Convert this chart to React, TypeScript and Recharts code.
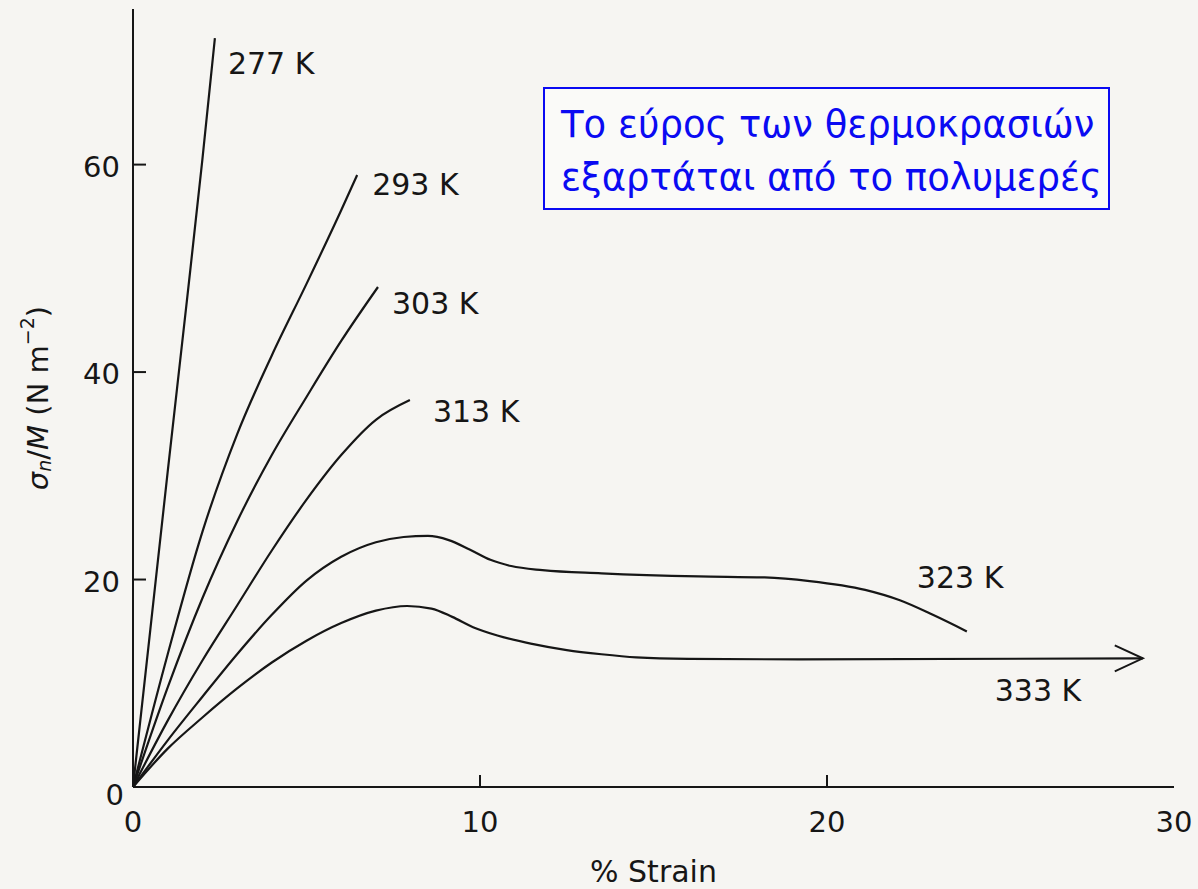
import React from 'react';
import { LineChart, Line, XAxis, YAxis } from 'recharts';

// Stress / strain curves at six temperatures (strain in %, stress in N m^-2 per M)
const strain277 = [0, 0.5, 1.0, 1.55, 2.0, 2.36];
const stress277 = [0, 15.2, 30.4, 46.8, 60.5, 72.2];

const strain293 = [0, 1, 2, 3, 4, 5, 6, 6.46];
const stress293 = [0, 12.8, 24.6, 34, 41.6, 48.5, 55.6, 59];

const strain303 = [0, 1, 2, 3, 4, 5, 6, 7.06];
const stress303 = [0, 9.6, 18.2, 25.6, 32, 37.6, 43, 48.2];

const strain313 = [0, 1, 2, 3, 4, 5, 6, 7, 7.98];
const stress313 = [0, 6.4, 12.2, 17.5, 22.8, 27.7, 32, 35.4, 37.3];

const strain323 = [0, 1, 2, 3, 4, 5, 6, 7, 7.8, 8.5, 9.1, 9.7, 10.3, 10.9, 11.8, 13.5, 16.3, 18.2, 19.5, 21.1, 22.1, 23.05, 24.03];
const stress323 = [0, 4.5, 8.7, 12.8, 16.6, 19.9, 22.2, 23.6, 24.1, 24.2, 23.8, 22.9, 21.9, 21.3, 20.9, 20.6, 20.3, 20.2, 19.85, 19.0, 18.0, 16.6, 15.0];

const strain333 = [0, 1, 2, 3, 4, 5, 6, 7, 7.9, 8.6, 9.2, 9.8, 10.5, 11.5, 12.5, 13.5, 14.5, 16, 19.2, 29.1];
const stress333 = [0, 3.7, 6.7, 9.5, 12.0, 14.1, 15.8, 17.0, 17.45, 17.2, 16.4, 15.4, 14.6, 13.8, 13.2, 12.8, 12.5, 12.35, 12.3, 12.4];

const temperatureLabels = ['277 K', '293 K', '303 K', '313 K', '323 K', '333 K'];

const xTicks = [0, 10, 20, 30];
const yTicks = [0, 20, 40, 60];
const yTicksRight = [20, 40, 60];

const noteLines = ['Το εύρος των θερμοκρασιών', 'εξαρτάται από το πολυμερές'];

const toPoints = (xs: number[], ys: number[]) => xs.map((x, i) => ({ x, y: ys[i] }));

const INK = '#161616';
const FONT = '"DejaVu Sans", "Liberation Sans", Arial, sans-serif';

const series = [
  { label: temperatureLabels[0], data: toPoints(strain277, stress277), dx: 13, dy: 25, arrow: false },
  { label: temperatureLabels[1], data: toPoints(strain293, stress293), dx: 15, dy: 10, arrow: false },
  { label: temperatureLabels[2], data: toPoints(strain303, stress303), dx: 14, dy: 16, arrow: false },
  { label: temperatureLabels[3], data: toPoints(strain313, stress313), dx: 23, dy: 11, arrow: false },
  { label: temperatureLabels[4], data: toPoints(strain323, stress323), dx: -50, dy: -54, arrow: false },
  { label: temperatureLabels[5], data: toPoints(strain333, stress333), dx: -148, dy: 32, arrow: true },
];

// End-of-curve marker: temperature label, plus an arrow head where requested
const makeEndDot = (label: string, count: number, dx: number, dy: number, arrow: boolean) => (props: any) => {
  const { cx, cy, index } = props;
  if (index !== count - 1) return <g key={`d-${label}-${index}`} />;
  return (
    <g key={`end-${label}`}>
      {arrow && (
        <path
          d={`M${cx - 28},${cy - 13} L${cx},${cy} L${cx - 28},${cy + 13}`}
          fill="none"
          stroke={INK}
          strokeWidth={2}
        />
      )}
      <text
        x={cx + dx}
        y={cy + dy}
        dominantBaseline="central"
        textAnchor="start"
        fontFamily={FONT}
        fontSize={30}
        fill={INK}
      >
        {label}
      </text>
    </g>
  );
};

const BottomTick = (props: any) => {
  const { x, y, payload } = props;
  const v = payload.value;
  return (
    <g>
      {v !== 0 && v !== 30 && <line x1={x} y1={y} x2={x} y2={y - 12} stroke={INK} strokeWidth={2} />}
      <text x={x} y={y + 45} textAnchor="middle" fontFamily={FONT} fontSize={29} fill={INK}>
        {v}
      </text>
    </g>
  );
};

const LeftTick = (props: any) => {
  const { x, y, payload } = props;
  const v = payload.value;
  return (
    <g>
      {v !== 0 && <line x1={x} y1={y} x2={x + 13} y2={y} stroke={INK} strokeWidth={2} />}
      <text
        x={x - (v === 0 ? 9 : 13)}
        y={y + (v === 0 ? 8 : 2)}
        textAnchor="end"
        dominantBaseline="central"
        fontFamily={FONT}
        fontSize={29}
        fill={INK}
      >
        {v}
      </text>
    </g>
  );
};

const RightTick = (props: any) => {
  const { x, y } = props;
  return <line x1={x} y1={y} x2={x - 13} y2={y} stroke={INK} strokeWidth={2} />;
};

const YTitle = () => {
  const cx = 38;
  const cy = 398;
  return (
    <text
      transform={`translate(${cx},${cy}) rotate(-90)`}
      textAnchor="middle"
      dominantBaseline="central"
      fontFamily={FONT}
      fontSize={29}
      fill={INK}
    >
      <tspan fontStyle="italic">σ</tspan>
      <tspan fontStyle="italic" fontSize={19} dy={6}>n</tspan>
      <tspan dy={-6}>/</tspan>
      <tspan fontStyle="italic">M</tspan>
      <tspan> (N m</tspan>
      <tspan fontSize={19} dy={-11}>−2</tspan>
      <tspan dy={11}>)</tspan>
    </text>
  );
};

export default function App() {
  return (
    <div
      style={{
        position: 'absolute',
        left: 0,
        top: 0,
        width: 1198,
        height: 889,
        background: '#f6f5f2',
        overflow: 'hidden',
      }}
    >
      <LineChart width={1198} height={889} margin={{ top: 9, right: 24, left: 0, bottom: 0 }}>
        <XAxis
          xAxisId="b"
          type="number"
          dataKey="x"
          domain={[0, 30]}
          ticks={xTicks}
          interval={0}
          height={102}
          tickSize={0}
          tickMargin={0}
          tickLine={false}
          axisLine={{ stroke: INK, strokeWidth: 2 }}
          tick={<BottomTick />}
          label={{
            value: '% Strain',
            position: 'insideBottom',
            offset: 7,
            fontFamily: FONT,
            fontSize: 30,
            fill: INK,
          }}
        />
        <XAxis
          xAxisId="t"
          orientation="top"
          type="number"
          dataKey="x"
          domain={[0, 30]}
          height={0}
          tick={false}
          tickLine={false}
          axisLine={{ stroke: INK, strokeWidth: 2 }}
        />
        <YAxis
          yAxisId="l"
          type="number"
          domain={[0, 75]}
          ticks={yTicks}
          interval={0}
          width={133}
          tickSize={0}
          tickMargin={0}
          tickLine={false}
          axisLine={{ stroke: INK, strokeWidth: 2 }}
          tick={<LeftTick />}
          label={<YTitle />}
        />
        <YAxis
          yAxisId="r"
          orientation="right"
          type="number"
          domain={[0, 75]}
          ticks={yTicksRight}
          interval={0}
          width={0}
          tickSize={0}
          tickMargin={0}
          tickLine={false}
          axisLine={{ stroke: INK, strokeWidth: 2 }}
          tick={<RightTick />}
        />
        {series.map((s) => (
          <Line
            key={s.label}
            xAxisId="b"
            yAxisId="l"
            data={s.data}
            dataKey="y"
            type="monotone"
            stroke={INK}
            strokeWidth={2.2}
            dot={makeEndDot(s.label, s.data.length, s.dx, s.dy, s.arrow)}
            activeDot={false}
            isAnimationActive={false}
          />
        ))}
      </LineChart>
      <div
        style={{
          position: 'absolute',
          left: 543,
          top: 87,
          width: 567,
          height: 123,
          border: '2px solid #0a0af2',
          background: '#fafaf8',
          color: '#0a0af2',
          fontFamily: '"DejaVu Sans", Verdana, sans-serif',
          fontSize: 37,
          lineHeight: '53px',
          padding: '9px 0 0 16px',
          boxSizing: 'border-box',
          whiteSpace: 'nowrap',
        }}
      >
        {noteLines.map((t) => (
          <div key={t}>{t}</div>
        ))}
      </div>
    </div>
  );
}
